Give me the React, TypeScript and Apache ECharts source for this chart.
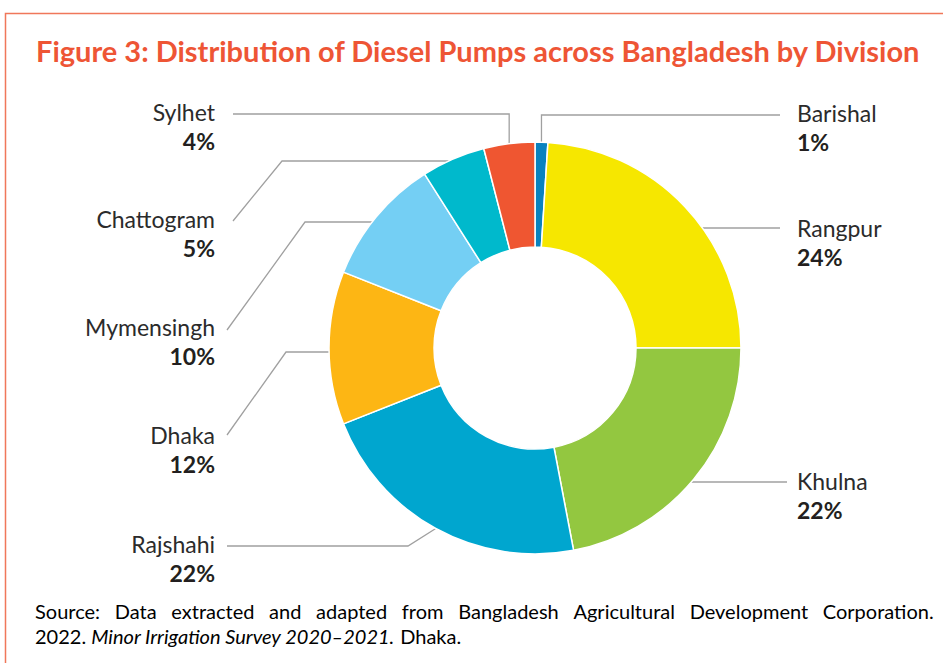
import React, { useEffect, useRef } from "react";
import * as echarts from "echarts";

const divisions = ["Barishal", "Rangpur", "Khulna", "Rajshahi", "Dhaka", "Mymensingh", "Chattogram", "Sylhet"];
const shares = [1, 24, 22, 22, 12, 10, 5, 4];
const colors = ["#0a82bf", "#f6e700", "#93c740", "#00a6cf", "#fdb614", "#74cff4", "#00b9cc", "#ef5631"];

const titleText = "Figure 3: Distribution of Diesel Pumps across Bangladesh by Division";
const sourceLine1 = "Source: Data extracted and adapted from Bangladesh Agricultural Development Corporation.";
const sourceYear = "2022. ";
const sourceTitle = "Minor Irrigation Survey 2020–2021.";
const sourceEnd = " Dhaka.";

const CX = 535;
const CY = 348;
const R_IN = 101;
const R_OUT = 206;

type LL = { side: "left" | "right"; ty: number; mode: "mid" | "y"; lineY?: number; elbow: [number, number] | null; end: [number, number] };
const labelLayouts: LL[] = [
  { side: "right", ty: 127, mode: "mid", elbow: null, end: [780, 115] },
  { side: "right", ty: 242, mode: "y", lineY: 228, elbow: null, end: [780, 228] },
  { side: "right", ty: 495, mode: "y", lineY: 482, elbow: null, end: [787, 482] },
  { side: "left", ty: 558, mode: "mid", elbow: [408, 546], end: [227, 546] },
  { side: "left", ty: 449, mode: "y", lineY: 352, elbow: [286, 352], end: [227, 435] },
  { side: "left", ty: 341, mode: "y", lineY: 222, elbow: [305, 222], end: [227, 330] },
  { side: "left", ty: 233, mode: "y", lineY: 161, elbow: [282, 161], end: [233, 221] },
  { side: "left", ty: 126, mode: "mid", elbow: null, end: [233, 114] },
];

export default function App() {
  const ref = useRef<HTMLDivElement>(null);
  useEffect(() => {
    document.body.style.margin = "0";
    const chart = echarts.init(ref.current!, null, { renderer: "svg" });
    const total = shares.reduce((a, b) => a + b, 0);
    const midPoint = (i: number): [number, number] => {
      let before = 0;
      for (let k = 0; k < i; k++) before += shares[k];
      const frac = (before + shares[i] / 2) / total;
      const ang = frac * Math.PI * 2;
      return [CX + R_OUT * Math.sin(ang), CY - R_OUT * Math.cos(ang)];
    };
    // justified first source line: words joined by fixed-width space tokens
    const words = sourceLine1.split(" ");
    const line1 = words.map((w) => `{n|${w}}`).join("{s| }");
    const option: any = {
      animation: false,
      backgroundColor: "#ffffff",
      title: {
        text: titleText,
        left: 31,
        top: 31,
        textStyle: { fontFamily: "Lato", fontWeight: "bold", fontSize: 29, color: "#ee5535" },
      },
      graphic: [
        {
          type: "polyline",
          shape: { points: [[5.5, 680], [5.5, 13.5], [960, 13.5]] },
          style: { stroke: "#f0775a", lineWidth: 1.5, fill: null },
          silent: true,
        },
        {
          type: "text",
          left: 35,
          top: 601,
          style: {
            text: `${line1}\n{n|${sourceYear}}{i|${sourceTitle}}{n|${sourceEnd}}`,
            rich: {
              n: { fontFamily: "Lato", fontSize: 20, color: "#333333", lineHeight: 25 },
              s: { fontFamily: "Lato", fontSize: 20, color: "#333333", lineHeight: 25, width: 14.7 },
              i: { fontFamily: "Lato", fontSize: 20, fontStyle: "italic", color: "#333333", lineHeight: 25 },
            },
          },
        },
      ],
      series: [
        {
          type: "pie",
          center: [CX, CY],
          radius: [R_IN, R_OUT],
          startAngle: 90,
          clockwise: true,
          avoidLabelOverlap: false,
          itemStyle: { borderColor: "#ffffff", borderWidth: 1.5 },
          emphasis: { disabled: true },
          label: {
            show: true,
            formatter: "{n|{b}}\n{p|{c}%}",
            rich: {
              n: { fontFamily: "Lato", fontSize: 23, color: "#2b2b2b", lineHeight: 29 },
              p: { fontFamily: "Lato", fontSize: 23, fontWeight: "bold", color: "#231f20", lineHeight: 29 },
            },
          },
          labelLine: { show: true, length: 20, length2: 20, lineStyle: { color: "#a0a0a0", width: 1.3 } },
          labelLayout: (params: any) => {
            const i = params.dataIndex;
            const L = labelLayouts[i];
            let start: [number, number];
            if (L.mode === "y" && L.lineY !== undefined) {
              const dx = Math.sqrt(R_OUT * R_OUT - (L.lineY - CY) * (L.lineY - CY));
              start = [L.side === "right" ? CX + dx : CX - dx, L.lineY];
            } else {
              start = midPoint(i);
            }
            let elbow: [number, number];
            if (L.elbow) elbow = L.elbow;
            else if (L.mode === "mid") elbow = [start[0], L.end[1]];
            else elbow = [(start[0] + L.end[0]) / 2, L.end[1]];
            return {
              x: L.side === "right" ? 797 : 215,
              y: L.ty,
              align: L.side === "right" ? "left" : "right",
              verticalAlign: "middle",
              labelLinePoints: [start, elbow, L.end],
            };
          },
          data: divisions.map((name, i) => ({
            name,
            value: shares[i],
            itemStyle: { color: colors[i] },
            label: { align: labelLayouts[i].side === "right" ? "left" : "right" },
          })),
        },
      ],
    };
    chart.setOption(option);
    return () => chart.dispose();
  }, []);
  return <div ref={ref} style={{ width: 943, height: 663 }} />;
}
